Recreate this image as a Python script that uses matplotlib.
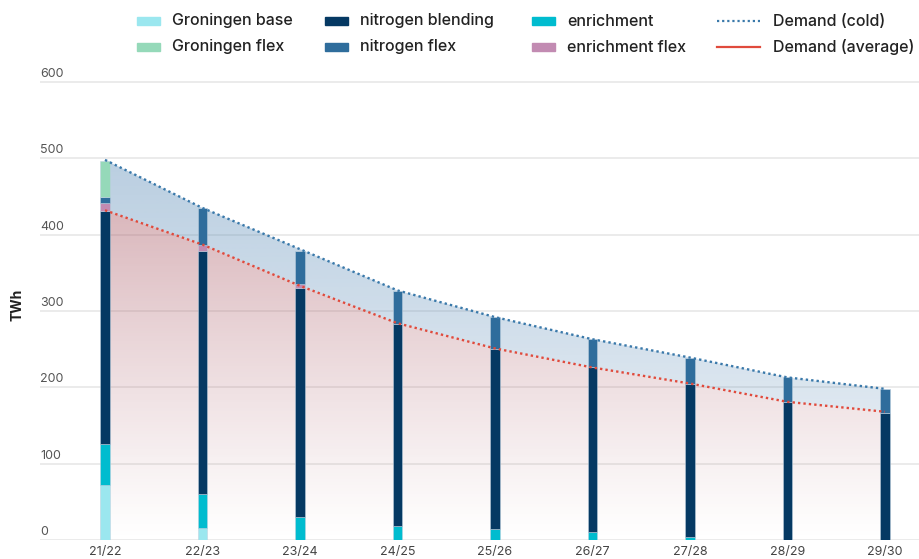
import numpy as np
import matplotlib
matplotlib.use('Agg')
import matplotlib.pyplot as plt
from matplotlib.patches import Rectangle
from matplotlib.lines import Line2D

plt.rcParams['font.family'] = ['Inter', 'DejaVu Sans']

# gas supply per gas year (TWh), stacked bottom to top
years = ['21/22', '22/23', '23/24', '24/25', '25/26', '26/27', '27/28', '28/29', '29/30']
groningen_base = [72, 16, 0, 0, 0, 0, 0, 0, 0]
enrichment = [54, 44, 30, 18, 14, 11, 4, 0, 0]
nitrogen_blending = [305, 319, 300, 265, 236, 215, 201, 181, 167]
enrichment_flex = [11, 8, 6, 0, 0, 0, 0, 0, 0]
nitrogen_flex = [8, 48, 43, 43, 42, 37, 34, 32, 31]
groningen_flex = [47, 0, 0, 0, 0, 0, 0, 0, 0]

demand_cold = [498, 435, 381, 327, 292, 263, 239, 213, 198]
demand_avg = [432, 387, 333, 284, 251, 226, 205, 181, 168]

yticks = [0, 100, 200, 300, 400, 500, 600]

series = [
    ('Groningen base', groningen_base, '#9be7ef'),
    ('enrichment', enrichment, '#00bccf'),
    ('nitrogen blending', nitrogen_blending, '#053963'),
    ('enrichment flex', enrichment_flex, '#c28bb2'),
    ('nitrogen flex', nitrogen_flex, '#2f6d9c'),
    ('Groningen flex', groningen_flex, '#95d9b9'),
]
colors = {name: c for name, _, c in series}
cold_color = '#3a79aa'
avg_color = '#e04a3c'

YMAX = 622.3

fig = plt.figure(figsize=(9.19, 5.59), dpi=100)
ax = fig.add_axes([40 / 919, 1 - 540 / 559, 1 - 40 / 919, (540 - 65) / 559])

x = np.arange(len(years))


def gradient_fill(ax, xs, top, bottom, rgb, amax, ref, power, zorder):
    poly = ax.fill_between(xs, bottom, top, color='none', lw=0)
    path = poly.get_paths()[0]
    yy = np.linspace(0, YMAX, 400)
    img = np.zeros((len(yy), 1, 4))
    img[..., :3] = rgb
    img[..., 3] = (amax * np.clip(yy / ref, 0, 1) ** power)[:, None]
    im = ax.imshow(img, aspect='auto', origin='lower',
                   extent=[xs[0], xs[-1], 0, YMAX], zorder=zorder,
                   interpolation='bilinear')
    im.set_clip_path(path, transform=ax.transData)


# shaded bands under the demand curves
gradient_fill(ax, x, np.array(demand_avg), np.zeros(len(x)),
              (0.68, 0.38, 0.42), 0.45, 430, 1.1, 1)
gradient_fill(ax, x, np.array(demand_cold), np.array(demand_avg),
              (0.40, 0.58, 0.74), 0.45, 500, 0.7, 1)

# stacked bars
bottom = np.zeros(len(x))
for name, vals, c in series:
    vals = np.array(vals, dtype=float)
    ax.bar(x, vals, width=0.1, bottom=bottom, color=c,
           edgecolor=(0.75, 0.82, 0.88, 0.6), linewidth=0.6, zorder=3)
    bottom += vals

ax.plot(x, demand_cold, color=cold_color, lw=1.7,
        linestyle=(0, (1, 1.3)), zorder=4)
ax.plot(x, demand_avg, color=avg_color, lw=1.7,
        linestyle=(0, (1, 1.3)), zorder=4)

ax.set_xlim(-65 / 97.5, 814 / 97.5)
ax.set_ylim(0, YMAX)

for s in ax.spines.values():
    s.set_visible(False)
ax.set_yticks(yticks)
ax.tick_params(axis='y', left=False, labelleft=False)
ax.grid(axis='y', color='#ebebeb', lw=1.4, zorder=0)
ax.set_axisbelow(True)
for v in yticks:
    ax.annotate(str(v), xy=(0, v), xycoords=('axes fraction', 'data'),
                xytext=(0, 1.5), textcoords='offset points',
                ha='left', va='bottom', fontsize=9, color='#555555')

ax.set_xticks(x)
ax.set_xticklabels(years, fontsize=9, color='#444444')
ax.tick_params(axis='x', bottom=False, pad=1)

fig.text(17 / 919, 1 - 305 / 559, 'TWh', rotation=90, ha='center',
         va='center', fontsize=10, fontweight='bold', color='#222222')

# legend, laid out by hand in pixel positions
W, H = 919, 559
legend_items = [
    (137, 21, 'patch', colors['Groningen base'], 'Groningen base'),
    (137, 47, 'patch', colors['Groningen flex'], 'Groningen flex'),
    (325, 21, 'patch', colors['nitrogen blending'], 'nitrogen blending'),
    (325, 47, 'patch', colors['nitrogen flex'], 'nitrogen flex'),
    (532, 21, 'patch', colors['enrichment'], 'enrichment'),
    (532, 47, 'patch', colors['enrichment flex'], 'enrichment flex'),
    (717, 21, 'dotted', cold_color, 'Demand (cold)'),
    (717, 47, 'solid', avg_color, 'Demand (average)'),
]
for px, py, kind, c, label in legend_items:
    if kind == 'patch':
        fig.patches.append(Rectangle((px / W, 1 - (py + 4) / H), 23 / W, 8 / H,
                                     transform=fig.transFigure, color=c))
        tx = px + 35
    else:
        ls = (0, (1, 1.3)) if kind == 'dotted' else '-'
        fig.lines.append(Line2D([px / W, (px + 43) / W], [1 - py / H] * 2,
                                transform=fig.transFigure, color=c,
                                lw=1.6, linestyle=ls))
        tx = px + 56
    fig.text(tx / W, 1 - py / H, label, ha='left', va='center',
             fontsize=11.5, fontweight='medium', color='#222222')

fig.savefig('out.png', dpi=100)
